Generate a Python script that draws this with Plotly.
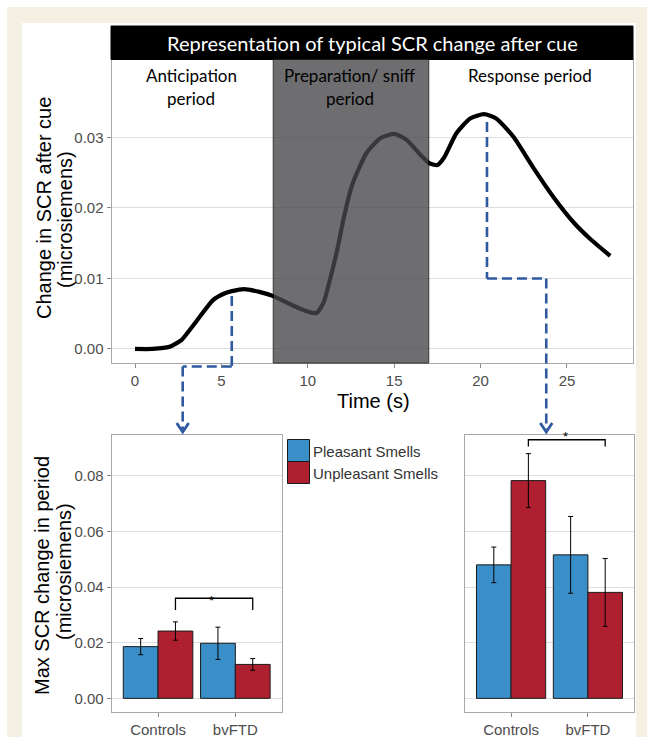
import plotly.graph_objects as go

# ---------------- data ----------------
time_s = [0, 1, 2, 2.7, 3.2, 3.76, 4.5, 5.2, 5.6, 6.3, 7.2, 8.0, 9.2, 10.0, 10.5,
          10.9, 11.3, 11.7, 12.1, 12.6, 13.4, 14.2, 15.0, 15.7, 16.5, 17.0, 17.5,
          17.9, 18.6, 19.4, 20.2, 20.9, 21.9, 23.0, 24.2, 25.4, 26.3, 27.5]
scr_change = [0, 0.0000, 0.0003, 0.0013, 0.0028, 0.0046, 0.0069, 0.0079, 0.0082,
              0.0085, 0.0081, 0.0075, 0.0061, 0.0053, 0.0051, 0.0065, 0.0100,
              0.0140, 0.0188, 0.0235, 0.0278, 0.0299, 0.0305, 0.0297, 0.0276,
              0.0264, 0.0261, 0.0272, 0.0306, 0.0327, 0.0333, 0.0327, 0.0301,
              0.0259, 0.0216, 0.0179, 0.0157, 0.0132]
prep_period = [8, 17]

groups = ["Controls", "bvFTD"]
antic_pleasant = [0.0186, 0.0198]
antic_pleasant_err = [0.0029, 0.0058]
antic_unpleasant = [0.0242, 0.0122]
antic_unpleasant_err = [0.0033, 0.0021]
resp_pleasant = [0.0480, 0.0516]
resp_pleasant_err = [0.0064, 0.0138]
resp_unpleasant = [0.0783, 0.0381]
resp_unpleasant_err = [0.0097, 0.0122]

top_yticks = [0, 0.01, 0.02, 0.03]
top_xticks = [0, 5, 10, 15, 20, 25]
bar_yticks = [0, 0.02, 0.04, 0.06, 0.08]

# ---------------- helpers ----------------
W, H = 650, 737
def PX(x):
    return x / W
def PY(y):
    return 1 - y / H

BLUE = "#3a8fc9"
RED = "#ae1f2f"
DASH = "#2f5aa0"
GRID = "#dedede"
BORDER = "#a8a8a8"
TICKC = "#4d4d4d"
AX_FONT = dict(family="Liberation Sans, Arial", size=15, color=TICKC)

top_dom_x = [PX(111.5), PX(633)]
top_dom_y = [PY(363), PY(59)]
top_rx = [-1.36, 28.82]
top_ry = [-0.00199, 0.04113]

def top_to_paper(t, v):
    px = top_dom_x[0] + (t - top_rx[0]) / (top_rx[1] - top_rx[0]) * (top_dom_x[1] - top_dom_x[0])
    py = top_dom_y[0] + (v - top_ry[0]) / (top_ry[1] - top_ry[0]) * (top_dom_y[1] - top_dom_y[0])
    return px, py

fig = go.Figure()

# curve
fig.add_trace(go.Scatter(x=time_s, y=scr_change, mode="lines",
                         line=dict(color="black", width=4.2, shape="spline", smoothing=0.6),
                         xaxis="x", yaxis="y", showlegend=False, hoverinfo="skip"))

# bars
def bar(y, err, color, xa, ya, name):
    return go.Bar(x=[1, 2], y=y, name=name, marker=dict(color=color, line=dict(color="#1a1a1a", width=1)),
                  error_y=dict(type="data", array=err, visible=True, color="black", thickness=1, width=2.5),
                  xaxis=xa, yaxis=ya, showlegend=False)

fig.add_trace(bar(antic_pleasant, antic_pleasant_err, BLUE, "x2", "y2", "Pleasant Smells"))
fig.add_trace(bar(antic_unpleasant, antic_unpleasant_err, RED, "x2", "y2", "Unpleasant Smells"))
fig.add_trace(bar(resp_pleasant, resp_pleasant_err, BLUE, "x3", "y3", "Pleasant Smells"))
fig.add_trace(bar(resp_unpleasant, resp_unpleasant_err, RED, "x3", "y3", "Unpleasant Smells"))

shapes = []
# background frame
shapes.append(dict(type="rect", xref="paper", yref="paper", x0=PX(7), x1=PX(647), y0=PY(737), y1=PY(7),
                   fillcolor="#f4f0e3", line=dict(width=0), layer="below"))
shapes.append(dict(type="rect", xref="paper", yref="paper", x0=PX(22), x1=PX(636), y0=PY(737), y1=PY(23),
                   fillcolor="white", line=dict(width=0), layer="below"))
# title bar
shapes.append(dict(type="rect", xref="paper", yref="paper", x0=PX(111), x1=PX(633), y0=PY(59.5), y1=PY(26),
                   fillcolor="black", line=dict(color="black", width=1), layer="above"))
# preparation band
shapes.append(dict(type="rect", xref="x", yref="paper", x0=prep_period[0], x1=prep_period[1],
                   y0=top_dom_y[0], y1=top_dom_y[1],
                   fillcolor="rgb(72,72,75)", opacity=0.79, line=dict(color="black", width=1), layer="above"))

# dashed connectors
dash_line = dict(color=DASH, width=2.6, dash="10px,5px")
lp = top_to_paper(5.6, 0.0075)
l_bottom = PY(366.5)
l_drop_x = PX(182.7)
shapes.append(dict(type="line", xref="paper", yref="paper", x0=lp[0], x1=lp[0], y0=lp[1], y1=l_bottom, line=dash_line))
shapes.append(dict(type="line", xref="paper", yref="paper", x0=lp[0], x1=l_drop_x, y0=l_bottom, y1=l_bottom, line=dash_line))
shapes.append(dict(type="line", xref="paper", yref="paper", x0=l_drop_x, x1=l_drop_x, y0=l_bottom, y1=PY(429), line=dash_line))

rp = top_to_paper(20.37, 0.0322)
r_mid = top_to_paper(23.8, 0.01)
shapes.append(dict(type="line", xref="paper", yref="paper", x0=rp[0], x1=rp[0], y0=rp[1], y1=r_mid[1], line=dash_line))
shapes.append(dict(type="line", xref="paper", yref="paper", x0=rp[0], x1=r_mid[0], y0=r_mid[1], y1=r_mid[1], line=dash_line))
shapes.append(dict(type="line", xref="paper", yref="paper", x0=r_mid[0], x1=r_mid[0], y0=r_mid[1], y1=PY(429), line=dash_line))

def chevron(xc, ytip):
    path = f"M {PX(xc-6)},{PY(ytip-9)} L {PX(xc)},{PY(ytip)} L {PX(xc+6)},{PY(ytip-9)}"
    return dict(type="path", xref="paper", yref="paper", path=path, line=dict(color=DASH, width=2.8))
shapes.append(chevron(182.7, 432))
shapes.append(chevron(r_mid[0] * W, 432))

# significance brackets
for xa, ya, yb, yt in [("x2", "y2", 0.036, 0.0318), ("x3", "y3", 0.0930, 0.0906)]:
    shapes.append(dict(type="path", xref=xa, yref=ya,
                       path=f"M 1.225,{yt} L 1.225,{yb} L 2.225,{yb} L 2.225,{yt}",
                       line=dict(color="black", width=1.3)))

# legend boxes
shapes.append(dict(type="rect", xref="paper", yref="paper", x0=PX(287.5), x1=PX(309.5), y0=PY(461.5), y1=PY(439.5),
                   fillcolor=BLUE, line=dict(color="#1a1a1a", width=1)))
shapes.append(dict(type="rect", xref="paper", yref="paper", x0=PX(287.5), x1=PX(309.5), y0=PY(483.5), y1=PY(461.5),
                   fillcolor=RED, line=dict(color="#1a1a1a", width=1)))

annotations = []
def ann(text, x, y, size, color="black", family="Liberation Sans, Arial", angle=0, xanchor="center"):
    annotations.append(dict(text=text, x=PX(x), y=PY(y), xref="paper", yref="paper", showarrow=False,
                            font=dict(size=size, color=color, family=family), textangle=angle,
                            xanchor=xanchor, yanchor="middle"))

ann("Representation of typical SCR change after cue", 372, 43, 20, color="white", family="Lato")
ann("Anticipation", 191, 76, 17, family="Lato")
ann("period", 191, 99, 17, family="Lato")
ann("Preparation/ sniff", 350.5, 76, 17, family="Lato")
ann("period", 350.5, 99, 17, family="Lato")
ann("Response period", 530, 76, 17, family="Lato")
ann("Change in SCR after cue", 44, 208, 20, angle=-90)
ann("(microsiemens)", 65, 220, 20, angle=-90)
ann("Time (s)", 373, 401, 20)
ann("Max SCR change in period", 42, 576, 20, angle=-90)
ann("(microsiemens)", 64, 572, 20, angle=-90)
ann("Pleasant Smells", 311, 451, 15, color="#333333", xanchor="left")
ann("Unpleasant Smells", 311, 473, 15, color="#333333", xanchor="left")
ann("*", 211, 600, 13)
ann("*", 565.5, 436, 13)

common_tick = dict(ticks="outside", ticklen=4, tickcolor="#888888", tickfont=AX_FONT, zeroline=False,
                   showline=True, linecolor=BORDER, linewidth=1, mirror=True)

fig.update_layout(
    width=W, height=H, margin=dict(l=0, r=0, t=0, b=0),
    paper_bgcolor="white", plot_bgcolor="white",
    barmode="group", bargap=0.1, bargroupgap=0,
    shapes=shapes, annotations=annotations, showlegend=False,
    xaxis=dict(domain=top_dom_x, range=top_rx, tickvals=top_xticks, showgrid=False,
               anchor="y", **common_tick),
    yaxis=dict(domain=top_dom_y, range=top_ry, tickvals=top_yticks, ticktext=[f"{v:.2f}" for v in top_yticks],
               showgrid=True, gridcolor=GRID, gridwidth=1, anchor="x", **common_tick),
    xaxis2=dict(domain=[PX(111.7), PX(281.7)], range=[0.4, 2.6], tickvals=[1, 2], ticktext=groups,
                showgrid=False, anchor="y2", **common_tick),
    yaxis2=dict(domain=[PY(711.7), PY(435)], range=[-0.0048, 0.0947], tickvals=bar_yticks,
                ticktext=[f"{v:.2f}" for v in bar_yticks], showgrid=True, gridcolor=GRID,
                anchor="x2", **common_tick),
    xaxis3=dict(domain=[PX(465), PX(634)], range=[0.4, 2.6], tickvals=[1, 2], ticktext=groups,
                showgrid=False, anchor="y3", **common_tick),
    yaxis3=dict(domain=[PY(711.7), PY(435)], range=[-0.0048, 0.0947], tickvals=bar_yticks,
                showticklabels=False, ticks="", showgrid=True, gridcolor=GRID, zeroline=False,
                showline=True, linecolor=BORDER, mirror=True, anchor="x3"),
)

fig.write_html("out.html", config={"displayModeBar": False},
               post_script="document.body.style.margin='0px';document.body.style.overflow='hidden';")
